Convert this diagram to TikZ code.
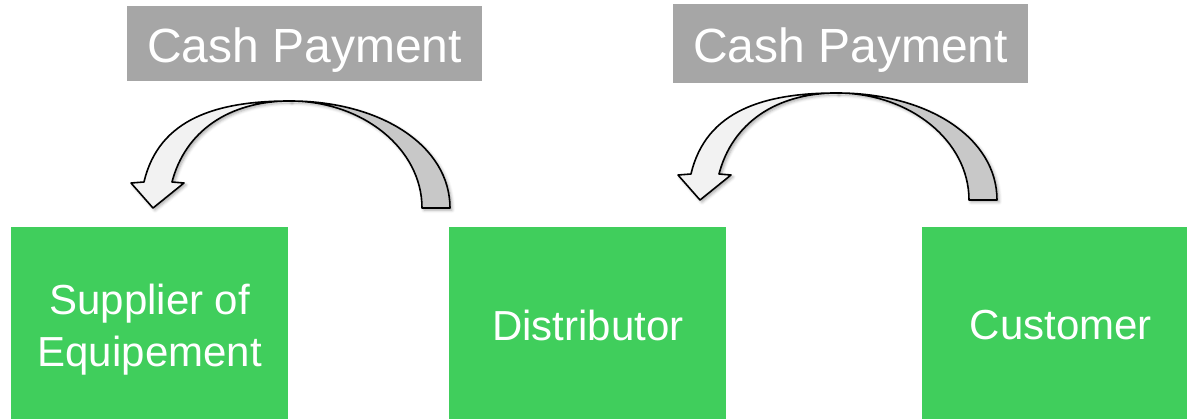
\documentclass[tikz,border=0pt]{standalone}
\usepackage{fontspec}
\setmainfont{Liberation Sans}
\usetikzlibrary{shadows.blur}

\definecolor{boxgreen}{RGB}{64,206,92}
\definecolor{labelgray}{RGB}{166,166,166}
\definecolor{arrowfront}{RGB}{242,242,242}
\definecolor{arrowback}{RGB}{200,200,200}

\tikzset{
  party/.style={fill=boxgreen, text=white, anchor=north west,
    minimum width=277pt, minimum height=196pt, inner sep=0pt,
    align=center, text depth=0pt, font=\fontsize{42}{52}\selectfont},
  paylabel/.style={fill=labelgray, text=white, inner sep=0pt,
    minimum width=355pt, text height=39pt, text depth=0pt,
    font=\fontsize{48}{56}\selectfont},
  arrowpart/.style={draw=black, line width=1.6pt, line join=round,
    blur shadow={shadow xshift=2pt, shadow yshift=-2pt,
      shadow blur radius=3pt, shadow opacity=35}},
  % curved block arrow, tip at the origin, tail to the right
  cash arrow/.pic={
    \filldraw[arrowpart, fill=arrowback]
      (137,107) .. controls (228,107) and (297,62) .. (297,0)
      -- (269,0) .. controls (269,59) and (210,107) .. (137,107) -- cycle;
    \filldraw[arrowpart, fill=arrowfront]
      (137,107) .. controls (65,107) and (6,90) .. (-9,26)
      -- (-22,25) -- (0,0) -- (31,25) -- (19,26)
      .. controls (32,76) and (75,107) .. (137,107) -- cycle;
  }
}

\begin{document}
\begin{tikzpicture}[x=1pt, y=1pt]
  \useasboundingbox (0,0) rectangle (1187,-419);
  \clip (0,0) rectangle (1187,-419);

  % parties
  \node[party] (sup)  at (11,-227)  {Supplier of\\Equipement};
  \node[party] (dist) at (449,-227) {Distributor};
  \node[party] (cust) at (922,-227) {Customer};

  % payment labels
  \node[paylabel, minimum height=75pt] (payL)
    at (304.5,-43.5) {Cash Payment\hspace{5pt}};
  \node[paylabel, minimum height=79pt] (payR)
    at (850.5,-43.5) {Cash Payment\hspace{5pt}};

  % payment flows
  \pic (flowL) at (153,-208) {cash arrow};
  \pic (flowR) at (700,-200) {cash arrow};
\end{tikzpicture}
\end{document}
